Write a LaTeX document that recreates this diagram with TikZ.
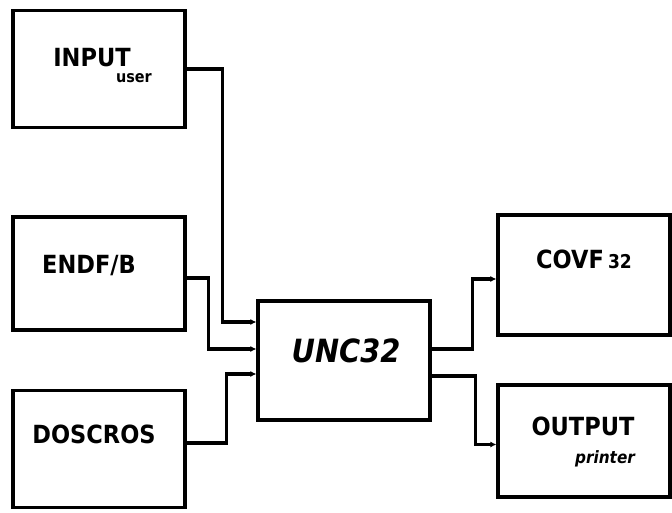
\documentclass[tikz,border=0pt]{standalone}
\usepackage{fontspec}
\newfontfamily\lblfont{DejaVu Sans Condensed}
\usetikzlibrary{arrows.meta}
\begin{document}
\begin{tikzpicture}[x=1pt,y=-1pt,
  blk/.style={draw, line width=3.2pt, minimum width=172pt, inner sep=0pt},
  lbl/.style={font=\lblfont\bfseries\fontsize{25}{27}\selectfont, inner sep=0pt},
  sub/.style={font=\lblfont\bfseries\fontsize{16}{18}\selectfont, inner sep=0pt},
  conn/.style={line width=3.2pt, -{Latex[length=6pt,width=6pt]}}]
\useasboundingbox (0,0) rectangle (672,513);
\node[blk, minimum height=117pt] (in) at (99,69) {};
\node[blk, minimum height=113pt] (endf) at (99,273.5) {};
\node[blk, minimum height=117pt] (dos) at (99,449) {};
\node[blk, minimum height=119pt] (unc) at (344,360.5) {};
\node[blk, minimum height=120pt] (covf) at (584,275) {};
\node[blk, minimum height=112pt] (out) at (584,441) {};
% labels
\node[lbl, anchor=base] (tin) at (92,67) {INPUT};
\node[sub, anchor=base] (tuser) at (134,83) {user};
\node[lbl, anchor=base] (tendf) at (89,273) {ENDF/B};
\node[lbl, anchor=base] (tdos) at (94,443) {DOSCROS};
\node[font=\lblfont\bfseries\itshape\fontsize{32}{34}\selectfont, inner sep=0pt, anchor=base] (tunc) at (346,362) {UNC32};
\node[lbl, anchor=base] (tcovf) at (584,268) {COVF\,{\fontsize{19}{20}\selectfont 32}};
\node[lbl, anchor=base] (tout) at (583,435) {OUTPUT};
\node[anchor=base, inner sep=0pt, font=\lblfont\bfseries\itshape\fontsize{17}{18}\selectfont] (tprn) at (605,463) {printer};
% connectors
\draw[conn] (in.east) -- ++(36,0) |- ([yshift=38.5pt]unc.west);
\draw[conn] ([yshift=-4.5pt]endf.east) -- ++(22,0) |- ([yshift=11.5pt]unc.west);
\draw[conn] ([yshift=6pt]dos.east) -- ++(40,0) |- ([yshift=-13.5pt]unc.west);
\draw[conn] ([yshift=11.5pt]unc.east) -- ++(41,0) |- ([yshift=-4pt]covf.west);
\draw[conn] ([yshift=-15.5pt]unc.east) -- ++(44,0) |- ([yshift=-3.5pt]out.west);
\end{tikzpicture}
\end{document}
